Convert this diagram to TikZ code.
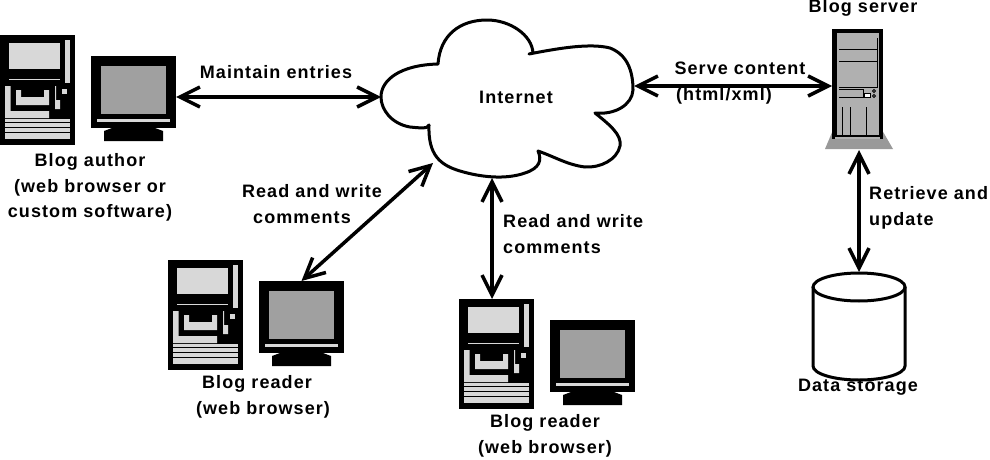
\documentclass[tikz,border=0pt]{standalone}
\usepackage{fontspec}
\setmainfont[LetterSpace=6]{Liberation Sans}
\usetikzlibrary{arrows.meta, positioning, shapes.geometric}
\definecolor{paneGray}{HTML}{D8D8D8}
\definecolor{screenGray}{HTML}{A0A0A0}
\definecolor{serverGray}{HTML}{B0B0B0}
\definecolor{baseGray}{HTML}{999999}

\tikzset{
    label/.style={
        font=\fontsize{18}{18}\selectfont\bfseries,
        inner sep=0pt,
        align=center
    },
    link/.style={
        <->,
        >={Straight Barb[length=20pt,width=20pt,line width=3.5pt]},
        line width=3.5pt,
        black
    },
    blackbox/.style={
        fill=black,
        rectangle,
        inner sep=0pt,
        outer sep=0pt
    },
    workstation/.pic={
        % tower
        \node[blackbox, minimum width=75pt, minimum height=110pt] (-tower) at (37.5,55) {};
        \fill[paneGray] (9,8) rectangle (60,34);
        \fill[paneGray] (65,5) rectangle (70,48);
        \fill[paneGray] (9,43.5) rectangle (60,44.5);
        \fill[paneGray] (5,51) rectangle (10.5,76) (5,76) rectangle (49,83);
        \fill[paneGray] (16,55) -- (21,55) -- (21,62) -- (44,62) -- (44,55) -- (49,55) -- (49,70) -- (16,70) -- cycle;
        \fill[paneGray] (55,51) rectangle (56,74) (56,65) rectangle (60,74);
        \fill[paneGray] (62,54) rectangle (67,59);
        \fill[paneGray] (5,84) rectangle (70,104);
        \foreach \y in {87,92,97} {
            \fill[black] (5,\y) rectangle (70,\y+1.2);
        }
        % monitor
        \node[blackbox, minimum width=85pt, minimum height=72pt] (-monitor) at (133.5,57) {};
        \fill[screenGray] (101,31) rectangle (166,79);
        \fill[paneGray] (97,84) rectangle (170,87);
        \fill[black] (112,93) -- (155,93) -- (163,96) -- (163,106) -- (104,106) -- (104,96) -- cycle;
    }
}

\begin{document}
\begin{tikzpicture}[x=1pt,y=-1pt]
\useasboundingbox (0,0) rectangle (990,460);

% Cloud
\draw[line width=3pt, line join=round, fill=white]
    (438,64) .. controls (440,35) and (460,20) .. (487,20)
    .. controls (510,20) and (532,35) .. (533,53)
    -- (529,54)
    .. controls (560,48) and (590,43) .. (610,48)
    .. controls (628,55) and (633,72) .. (633,90)
    .. controls (632,105) and (615,115) .. (595,113)
    .. controls (610,125) and (622,135) .. (620,146)
    .. controls (617,160) and (600,168) .. (585,167)
    .. controls (568,165) and (555,157) .. (538,151)
    .. controls (542,160) and (540,168) .. (525,173)
    .. controls (505,180) and (480,177) .. (460,171)
    .. controls (440,165) and (428,155) .. (429,125)
    .. controls (428,129) and (420,128) .. (410,127)
    .. controls (392,124) and (381,110) .. (381,97)
    .. controls (381,80) and (400,65) .. (438,64)
    -- cycle;
\node[label] (internet) at (516,97) {Internet};
\coordinate (cloudw) at (381,97);
\coordinate (cloude) at (634,86);
\coordinate (cloudsw) at (433,163);
\coordinate (clouds) at (492,178);

% Computers
\pic (author) at (0,35) {workstation};
\pic (readera) at (168,260) {workstation};
\pic (readerb) at (459,299) {workstation};

% Server
\fill[baseGray] (833,130) -- (882,130) -- (893,149) -- (825,149) -- cycle;
\node[blackbox, minimum width=51pt, minimum height=110pt] (server) at (857.5,84) {};
\fill[serverGray] (837,33) rectangle (879,135);
\fill[black] (835,135) rectangle (880,136.5);
\fill[serverGray] (835,136.5) rectangle (880,139);
\draw[line width=1pt]
    (839,50) -- (877,50) (839,62) -- (877,62)
    (877,38) -- (877,87) -- (839,87)
    (839,89) -- (863,89) -- (863,97) -- (839,97)
    (842,107) -- (842,135) (850,107) -- (850,135) (866,107) -- (866,135);
\draw[line width=0.8pt, fill=white] (864,93) rectangle (870,97);
\draw[line width=0.8pt] (874,91) circle (1.5) (874,96) circle (1.5);
\coordinate (serverbase) at (859,150);

% Storage
\draw[line width=3pt]
    (813,287) -- (813,366) arc[start angle=180, end angle=0, x radius=46, y radius=14] -- (905,287);
\draw[line width=3pt] (859,287) ellipse[x radius=46, y radius=14];
\coordinate (storage) at (859,272);

% Links
\draw[link] ([yshift=-5pt]author-monitor.east) -- (cloudw);
\draw[link] (cloude) -- (cloude -| server.west);
\draw[link] (cloudsw) -- (readera-monitor.north);
\draw[link] (clouds) -- (clouds |- readerb-tower.north);
\draw[link] (serverbase) -- (storage);

% Labels
\node[label] (authorlabel) at (90,187) {Blog author\\[8pt](web browser or\\[7pt]custom software)};
\node[label] (maintainlabel) at (276,72) {Maintain entries};
\node[label] (servelabel) at (740,68) {Serve content};
\node[label] (htmllabel) at (724,96) {(html/xml)};
\node[label] (serverlabel) at (863,8) {Blog server};
\node[label, align=left, anchor=west] (retrievelabel) at (869,208) {Retrieve and\\[8pt]update};
\node[label] (commentsa) at (312,191) {Read and write};
\node[label] (commentsatwo) at (302,218) {comments};
\node[label, align=left, anchor=west] (commentsb) at (503,234) {Read and write\\[8pt]comments};
\node[label] (readera) at (257,384) {Blog reader};
\node[label] (readeratwo) at (263,410) {(web browser)};
\node[label] (readerblabel) at (545,436) {Blog reader\\[8pt](web browser)};
\node[label] (storagelabel) at (858,387) {Data storage};

\end{tikzpicture}
\end{document}
